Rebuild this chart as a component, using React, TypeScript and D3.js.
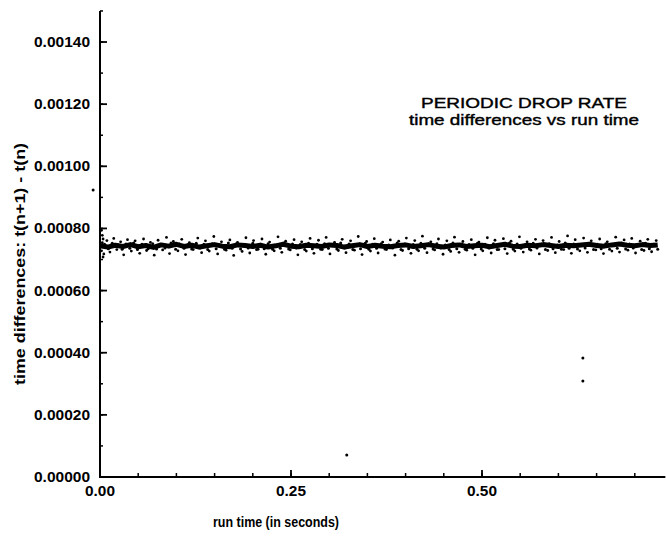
import React from "react";
import * as d3 from "d3";

const W = 666;
const H = 543;

const yTicksMajor = [0, 0.0002, 0.0004, 0.0006, 0.0008, 0.001, 0.0012, 0.0014];
const yTickLabels = ["0.00000", "0.00020", "0.00040", "0.00060", "0.00080", "0.00100", "0.00120", "0.00140"];
const xTicksMajor = [0, 0.25, 0.5];
const xTickLabels = ["0.00", "0.25", "0.50"];

// core of the band (run time s, time difference in microseconds)
const coreTimes = [
  0.0, 0.01, 0.02, 0.03, 0.04, 0.05, 0.06, 0.07, 0.08, 0.09, 0.1, 0.11, 0.12, 0.13, 0.14, 0.15, 0.16, 0.17, 0.18, 0.19,
  0.2, 0.21, 0.22, 0.23, 0.24, 0.25, 0.26, 0.27, 0.28, 0.29, 0.3, 0.31, 0.32, 0.33, 0.34, 0.35, 0.36, 0.37, 0.38, 0.39,
  0.4, 0.41, 0.42, 0.43, 0.44, 0.45, 0.46, 0.47, 0.48, 0.49, 0.5, 0.51, 0.52, 0.53, 0.54, 0.55, 0.56, 0.57, 0.58, 0.59,
  0.6, 0.61, 0.62, 0.63, 0.64, 0.65, 0.66, 0.67, 0.68, 0.69, 0.7, 0.71, 0.72, 0.73,
];
const coreMicros = [
  744, 740, 746, 742, 748, 741, 745, 739, 747, 743, 749, 742, 746, 740, 744, 748, 743, 741, 747, 745,
  742, 746, 740, 744, 749, 743, 741, 746, 744, 742, 747, 745, 740, 744, 748, 742, 746, 743, 741, 745,
  747, 742, 744, 748, 743, 740, 745, 747, 742, 744, 746, 741, 745, 749, 743, 742, 746, 744, 748, 745,
  742, 746, 744, 747, 749, 745, 743, 747, 750, 746, 744, 748, 745, 747,
];

// widely scattered points around the band: [run time s, microseconds]
const scatterOuter: [number, number][] = [
  [0.002, 794], [0.003, 778], [0.004, 766], [0.003, 754], [0.002, 728], [0.005, 718], [0.004, 708], [0.009, 761],
  [0.013, 724], [0.018, 768], [0.022, 732], [0.027, 757], [0.031, 715], [0.036, 764], [0.041, 727], [0.046, 760],
  [0.052, 720], [0.057, 766], [0.061, 729], [0.066, 755], [0.071, 714], [0.076, 762], [0.082, 731], [0.087, 771],
  [0.091, 719], [0.096, 758], [0.102, 728], [0.107, 765], [0.112, 716], [0.117, 754], [0.122, 732], [0.128, 769],
  [0.133, 722], [0.138, 760], [0.143, 727], [0.149, 774], [0.154, 718], [0.159, 757], [0.165, 730], [0.17, 763],
  [0.175, 713], [0.18, 755], [0.186, 726], [0.191, 770], [0.196, 721], [0.201, 761], [0.207, 733], [0.212, 766],
  [0.217, 717], [0.222, 756], [0.228, 728], [0.233, 773], [0.238, 723], [0.243, 759], [0.249, 731], [0.254, 764],
  [0.259, 715], [0.264, 757], [0.27, 727], [0.275, 768], [0.28, 720], [0.286, 762], [0.291, 732], [0.296, 771],
  [0.301, 718], [0.307, 755], [0.312, 729], [0.317, 765], [0.322, 722], [0.328, 760], [0.333, 730], [0.338, 774],
  [0.343, 716], [0.349, 758], [0.354, 727], [0.359, 767], [0.364, 721], [0.37, 756], [0.375, 732], [0.38, 763],
  [0.386, 714], [0.391, 759], [0.396, 729], [0.401, 769], [0.407, 720], [0.412, 761], [0.417, 728], [0.422, 775],
  [0.428, 722], [0.433, 757], [0.438, 731], [0.443, 766], [0.449, 717], [0.454, 760], [0.459, 726], [0.464, 772],
  [0.47, 723], [0.475, 758], [0.48, 730], [0.486, 764], [0.491, 715], [0.496, 756], [0.501, 728], [0.507, 770],
  [0.512, 721], [0.517, 762], [0.522, 732], [0.528, 767], [0.533, 719], [0.538, 759], [0.543, 727], [0.549, 773],
  [0.554, 724], [0.559, 757], [0.564, 730], [0.57, 765], [0.575, 718], [0.58, 761], [0.586, 729], [0.591, 771],
  [0.596, 722], [0.601, 758], [0.607, 732], [0.612, 776], [0.617, 720], [0.622, 764], [0.628, 728], [0.633, 769],
  [0.638, 723], [0.643, 760], [0.649, 731], [0.654, 766], [0.659, 719], [0.664, 757], [0.67, 727], [0.675, 772],
  [0.68, 724], [0.686, 763], [0.691, 730], [0.696, 768], [0.701, 721], [0.707, 759], [0.712, 729], [0.717, 765],
  [0.722, 725], [0.728, 761],
];

// points close to the band core: [run time s, microseconds]
const scatterInner: [number, number][] = [
  [0.006, 749], [0.011, 735], [0.016, 752], [0.024, 747], [0.029, 733], [0.034, 750], [0.039, 736], [0.044, 753],
  [0.049, 732], [0.055, 749], [0.063, 735], [0.069, 751], [0.074, 734], [0.079, 747], [0.085, 737], [0.093, 753],
  [0.099, 733], [0.104, 750], [0.11, 736], [0.115, 748], [0.12, 734], [0.126, 752], [0.131, 737], [0.136, 749],
  [0.141, 732], [0.147, 751], [0.152, 735], [0.157, 747], [0.163, 733], [0.168, 753], [0.173, 736], [0.178, 750],
  [0.184, 734], [0.189, 748], [0.194, 737], [0.2, 752], [0.205, 732], [0.21, 749], [0.215, 735], [0.22, 751],
  [0.226, 733], [0.231, 747], [0.236, 736], [0.241, 753], [0.247, 734], [0.252, 750], [0.257, 737], [0.262, 748],
  [0.268, 732], [0.273, 752], [0.278, 735], [0.284, 749], [0.289, 733], [0.294, 751], [0.299, 736], [0.305, 747],
  [0.31, 734], [0.315, 753], [0.32, 737], [0.326, 750], [0.331, 732], [0.336, 748], [0.341, 735], [0.347, 752],
  [0.352, 733], [0.357, 749], [0.362, 736], [0.368, 751], [0.373, 734], [0.378, 747], [0.383, 737], [0.389, 753],
  [0.394, 732], [0.399, 750], [0.404, 735], [0.41, 748], [0.415, 733], [0.42, 752], [0.425, 736], [0.431, 749],
  [0.436, 734], [0.441, 751], [0.446, 737], [0.452, 747], [0.457, 732], [0.462, 753], [0.467, 735], [0.473, 750],
  [0.478, 733], [0.483, 748], [0.488, 736], [0.494, 752], [0.499, 734], [0.504, 749], [0.509, 737], [0.515, 751],
  [0.52, 732], [0.525, 747], [0.53, 735], [0.536, 753], [0.541, 733], [0.546, 750], [0.551, 736], [0.557, 748],
  [0.562, 734], [0.567, 752], [0.572, 737], [0.578, 749], [0.583, 732], [0.588, 751], [0.593, 735], [0.599, 747],
  [0.604, 733], [0.609, 753], [0.614, 736], [0.62, 750], [0.625, 734], [0.63, 748], [0.635, 737], [0.641, 752],
  [0.646, 732], [0.651, 749], [0.656, 735], [0.662, 751], [0.667, 733], [0.672, 747], [0.677, 736], [0.683, 753],
  [0.688, 734], [0.693, 750], [0.698, 737], [0.704, 748], [0.709, 732], [0.714, 752], [0.719, 735], [0.725, 749],
  [0.73, 733],
];

// isolated outliers: [run time s, microseconds]
const outliers: [number, number][] = [
  [-0.009, 924],
  [0.323, 71],
  [0.632, 383],
  [0.632, 309],
];

export default function App() {
  const left = 100;
  const bottom = 477;
  const x = d3.scaleLinear().domain([0, 0.74]).range([left, left + 0.74 * 764]);
  const y = d3.scaleLinear().domain([0, 0.0015]).range([bottom, bottom - 1.5 * 310.7]);

  const yMinor = d3.range(0, 0.00151, 0.0001);
  const xMinor = d3.range(0, 0.741, 0.05);

  const coreLine = d3
    .line<number>()
    .x((_, i) => x(coreTimes[i]))
    .y((d) => y(d / 1e6))
    .curve(d3.curveLinear);

  const font = "'Liberation Sans', Arial, sans-serif";

  return (
    <svg
      width={W}
      height={H}
      viewBox={`0 0 ${W} ${H}`}
      style={{ position: "absolute", left: 0, top: 0, background: "#fff" }}
    >
      <rect x={0} y={0} width={W} height={H} fill="#fff" />
      {/* y axis */}
      <line x1={x(0)} x2={x(0)} y1={y(0)} y2={y(0.0015)} stroke="#000" strokeWidth={2} />
      {yMinor.map((v, i) => (
        <line key={"ym" + i} x1={x(0)} x2={x(0) + 3} y1={y(v)} y2={y(v)} stroke="#000" strokeWidth={1.5} />
      ))}
      {yTicksMajor.map((v, i) => (
        <g key={"yt" + i}>
          <line x1={x(0)} x2={x(0) + 7} y1={y(v)} y2={y(v)} stroke="#000" strokeWidth={1.8} />
          <text
            x={90}
            y={y(v) + 5}
            textAnchor="end"
            fontFamily={font}
            fontWeight="bold"
            fontSize={14}
            textLength={56}
            lengthAdjust="spacingAndGlyphs"
            fill="#000"
          >
            {yTickLabels[i]}
          </text>
        </g>
      ))}
      {/* x axis */}
      <line x1={x(0) - 1} x2={x(0.74)} y1={y(0)} y2={y(0)} stroke="#000" strokeWidth={2} />
      {xMinor.map((v, i) => (
        <line key={"xm" + i} x1={x(v)} x2={x(v)} y1={y(0)} y2={y(0) - 4} stroke="#000" strokeWidth={1.5} />
      ))}
      {xTicksMajor.map((v, i) => (
        <g key={"xt" + i}>
          <line x1={x(v)} x2={x(v)} y1={y(0)} y2={y(0) - 7} stroke="#000" strokeWidth={1.8} />
          <text
            x={x(v)}
            y={y(0) + 19}
            textAnchor="middle"
            fontFamily={font}
            fontWeight="bold"
            fontSize={14}
            textLength={30}
            lengthAdjust="spacingAndGlyphs"
            fill="#000"
          >
            {xTickLabels[i]}
          </text>
        </g>
      ))}
      {/* axis titles */}
      <text
        x={276}
        y={527}
        textAnchor="middle"
        fontFamily={font}
        fontWeight="bold"
        fontSize={15}
        textLength={126}
        lengthAdjust="spacingAndGlyphs"
        fill="#000"
      >
        run time (in seconds)
      </text>
      <text
        transform={`translate(25, 264) rotate(-90)`}
        textAnchor="middle"
        fontFamily={font}
        fontWeight="bold"
        fontSize={15}
        textLength={242}
        lengthAdjust="spacingAndGlyphs"
        fill="#000"
      >
        time differences: t(n+1) - t(n)
      </text>
      {/* chart title */}
      <text
        x={524}
        y={108}
        textAnchor="middle"
        fontFamily={font}
        fontSize={15}
        stroke="#000"
        strokeWidth={0.4}
        textLength={206}
        lengthAdjust="spacingAndGlyphs"
        fill="#000"
      >
        PERIODIC DROP RATE
      </text>
      <text
        x={524}
        y={125}
        textAnchor="middle"
        fontFamily={font}
        fontSize={15}
        stroke="#000"
        strokeWidth={0.4}
        textLength={230}
        lengthAdjust="spacingAndGlyphs"
        fill="#000"
      >
        time differences vs run time
      </text>
      {/* data */}
      <path d={coreLine(coreMicros) || ""} fill="none" stroke="#000" strokeWidth={5} strokeLinejoin="round" />
      {scatterInner.map((p, i) => (
        <circle key={"si" + i} cx={x(p[0])} cy={y(p[1] / 1e6)} r={1.5} fill="#000" />
      ))}
      {scatterOuter.map((p, i) => (
        <circle key={"so" + i} cx={x(p[0])} cy={y(p[1] / 1e6)} r={1.4} fill="#000" />
      ))}
      {outliers.map((p, i) => (
        <circle key={"o" + i} cx={x(p[0])} cy={y(p[1] / 1e6)} r={1.5} fill="#000" />
      ))}
    </svg>
  );
}
